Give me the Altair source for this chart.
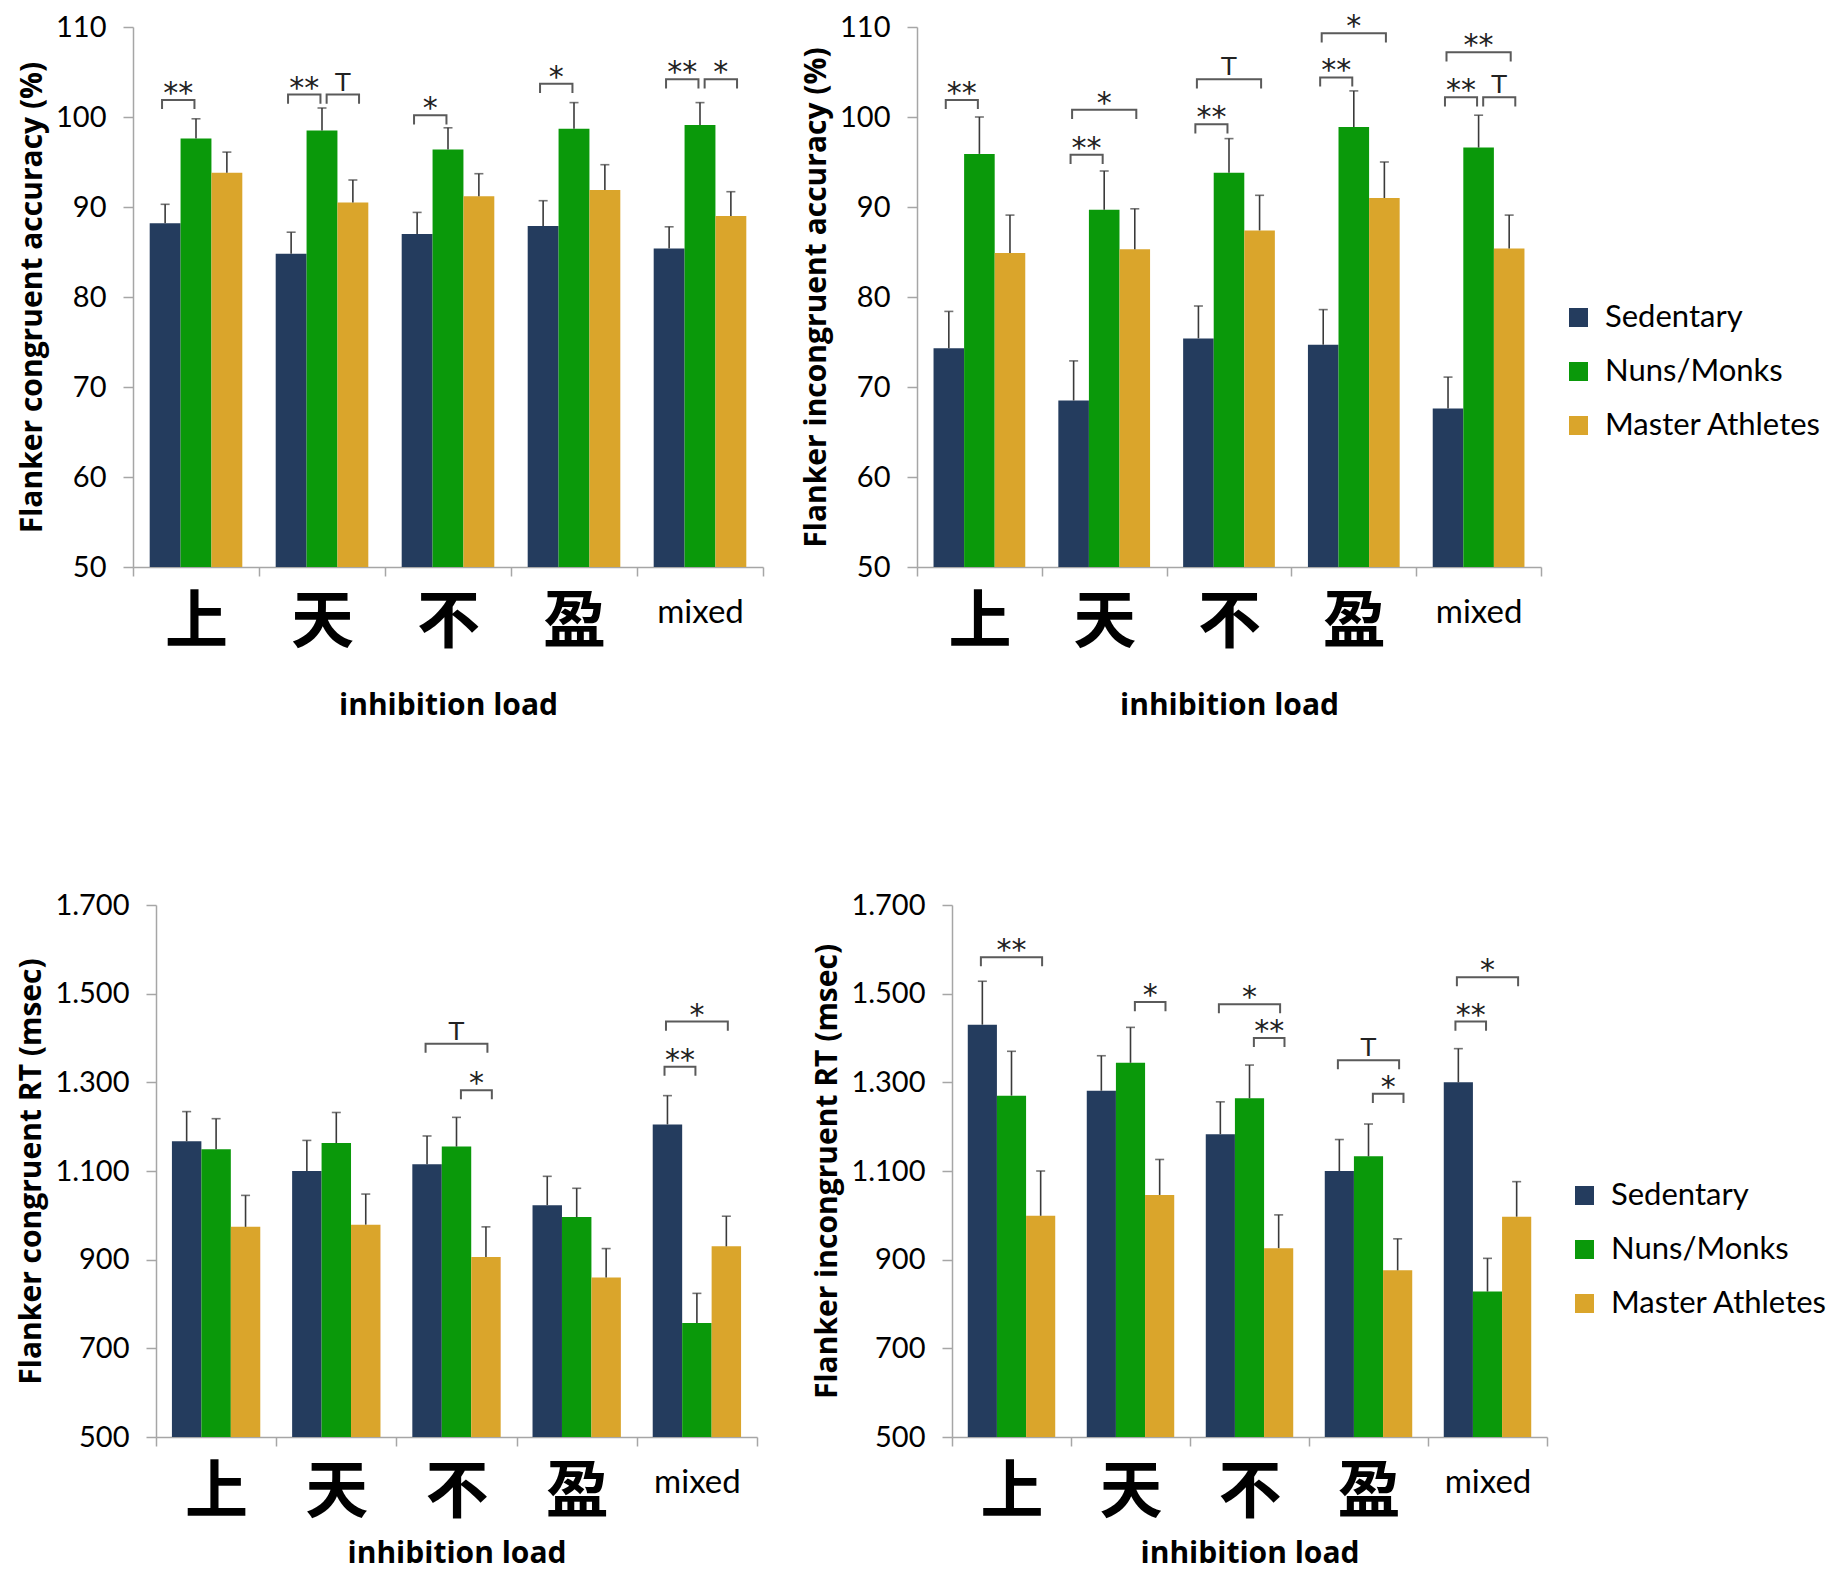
import json
import altair as alt
import pandas as pd

categories = ["上", "天", "不", "盈", "mixed"]
groups = ["Sedentary", "Nuns/Monks", "Master Athletes"]
group_colors = ["#243c5e", "#0a990a", "#daa52b"]

# Flanker congruent accuracy (%)
acc_con_sedentary = [88.2, 84.8, 87.0, 87.9, 85.4]
acc_con_nuns = [97.6, 98.5, 96.4, 98.7, 99.1]
acc_con_athletes = [93.8, 90.5, 91.2, 91.9, 89.0]
acc_con_err_sedentary = [2.1, 2.4, 2.4, 2.8, 2.4]
acc_con_err_nuns = [2.2, 2.5, 2.4, 2.9, 2.5]
acc_con_err_athletes = [2.3, 2.5, 2.5, 2.8, 2.7]
acc_con_sig = [(0, "SN", 101.9, "**"), (1, "SN", 102.5, "**"), (1, "NM", 102.5, "T"),
               (2, "SN", 100.2, "*"), (3, "SN", 103.7, "*"), (4, "SN", 104.2, "**"),
               (4, "NM", 104.2, "*")]

# Flanker incongruent accuracy (%)
acc_inc_sedentary = [74.3, 68.5, 75.4, 74.7, 67.6]
acc_inc_nuns = [95.9, 89.7, 93.8, 98.9, 96.6]
acc_inc_athletes = [84.9, 85.3, 87.4, 91.0, 85.4]
acc_inc_err_sedentary = [4.1, 4.4, 3.6, 3.9, 3.5]
acc_inc_err_nuns = [4.1, 4.3, 3.8, 4.0, 3.6]
acc_inc_err_athletes = [4.2, 4.5, 3.9, 4.0, 3.7]
acc_inc_sig = [(0, "SN", 101.9, "**"), (1, "SN", 95.8, "**"), (1, "SM", 100.8, "*"),
               (2, "SN", 99.2, "**"), (2, "SM", 104.2, "T"), (3, "SN", 104.4, "**"),
               (3, "SM", 109.3, "*"), (4, "SN", 102.2, "**"), (4, "NM", 102.2, "T"),
               (4, "SM", 107.2, "**")]

# Flanker congruent RT (msec)
rt_con_sedentary = [1167, 1100, 1115, 1023, 1205]
rt_con_nuns = [1149, 1163, 1155, 996, 757]
rt_con_athletes = [974, 979, 906, 860, 930]
rt_con_err_sedentary = [67, 69, 64, 65, 65]
rt_con_err_nuns = [69, 69, 66, 65, 67]
rt_con_err_athletes = [71, 69, 68, 65, 68]
rt_con_sig = [(2, "SM", 1387, "T"), (2, "NM", 1282, "*"), (4, "SM", 1437, "*"),
              (4, "SN", 1335, "**")]

# Flanker incongruent RT (msec)
rt_inc_sedentary = [1430, 1281, 1183, 1100, 1300]
rt_inc_nuns = [1270, 1344, 1264, 1133, 828]
rt_inc_athletes = [999, 1046, 926, 876, 997]
rt_inc_err_sedentary = [98, 79, 73, 71, 76]
rt_inc_err_nuns = [100, 80, 75, 73, 75]
rt_inc_err_athletes = [101, 80, 75, 71, 79]
rt_inc_sig = [(0, "SM", 1582, "**"), (1, "NM", 1481, "*"), (2, "SM", 1476, "*"),
              (2, "NM", 1400, "**"), (3, "SM", 1350, "T"), (3, "NM", 1274, "*"),
              (4, "SM", 1537, "*"), (4, "SN", 1437, "**")]

acc_ticks = [50, 60, 70, 80, 90, 100, 110]
rt_ticks = [500, 700, 900, 1100, 1300, 1500, 1700]

BAR_W = 0.245
PAIR_ENDS = {"SN": (-1.1, -0.05), "NM": (0.15, 1.2), "SM": (-1.05, 1.05)}
CAT_JS = json.dumps(categories, ensure_ascii=False)


def panel(means, errs, sig, ydom, yticks, ytitle, width, height, legend, rt,
          title_pad, shift=0):
    rows = []
    for gi, g in enumerate(groups):
        for ci, c in enumerate(categories):
            xc = ci + 0.5 + (gi - 1) * BAR_W
            rows.append(dict(cat=c, group=g, xc=xc, x0=xc - BAR_W / 2, x1=xc + BAR_W / 2,
                             mean=means[gi][ci], top=means[gi][ci] + errs[gi][ci]))
    df = pd.DataFrame(rows)

    drop = 0.017 * (ydom[1] - ydom[0])
    brows, trows = [], []
    for bi, (ci, pair, lvl, lab) in enumerate(sig):
        l, r = PAIR_ENDS[pair]
        xl = ci + 0.5 + l * BAR_W
        xr = ci + 0.5 + r * BAR_W
        for k, (xx, yy) in enumerate([(xl, lvl - drop), (xl, lvl), (xr, lvl), (xr, lvl - drop)]):
            brows.append(dict(bid=bi, ord=k, bx=xx, by=yy))
        trows.append(dict(tx=(xl + xr) / 2, ty=lvl, lab=lab))
    bdf = pd.DataFrame(brows)
    tdf = pd.DataFrame(trows)

    is_mixed = "floor(datum.value) == 4"
    xaxis = alt.Axis(
        values=[i * 0.5 for i in range(11)],
        labelExpr=f"datum.value % 1 == 0 ? '' : {CAT_JS}[floor(datum.value)]",
        tickOpacity={"condition": {"test": "datum.value % 1 != 0", "value": 0}, "value": 1},
        labelFont={"condition": {"test": is_mixed, "value": "Lato"}, "value": "Noto Sans CJK SC"},
        labelFontSize={"condition": {"test": is_mixed, "value": 33}, "value": 63},
        labelFontWeight={"condition": {"test": is_mixed, "value": "normal"}, "value": "bold"},
        labelPadding={"condition": {"test": is_mixed, "value": 20}, "value": 15},
        labelOverlap=False,
        labelFlush=False,
        labelBaseline="top",
        tickSize=9,
        titlePadding=title_pad,
    )
    if rt:
        ylabel = "replace(format(datum.value, ','), ',', '.')"
    else:
        ylabel = "format(datum.value, 'd')"
    yaxis = alt.Axis(values=yticks, labelExpr=ylabel, tickSize=10, labelPadding=17,
                     titlePadding=8, labelFontSize=29, offset=-shift)

    xs = alt.Scale(domain=[0, 5], nice=False, zero=False, range=[shift, width + shift])
    ys = alt.Scale(domain=ydom, nice=False, zero=False)

    def X(f):
        return alt.X(f, type="quantitative", scale=xs, axis=xaxis, title="inhibition load")

    def Y(f):
        return alt.Y(f, type="quantitative", scale=ys, axis=yaxis, title=ytitle)

    color = alt.Color("group:N", scale=alt.Scale(domain=groups, range=group_colors),
                      sort=groups, legend=legend)

    bars = alt.Chart(df).mark_bar().encode(
        x=X("x0"), x2="x1:Q", y=Y("mean"), y2=alt.datum(ydom[0]), color=color)
    err = alt.Chart(df).mark_rule(color="#3a3a3a", strokeWidth=1.6).encode(
        x=X("xc"), y=Y("mean"), y2="top:Q")
    caps = alt.Chart(df).mark_tick(orient="horizontal", size=9, thickness=1.6,
                                   color="#3a3a3a").encode(x=X("xc"), y=Y("top"))
    brk = alt.Chart(bdf).mark_line(color="#5a5a5a", strokeWidth=2).encode(
        x=X("bx"), y=Y("by"), detail="bid:N", order="ord:Q")
    stars = alt.Chart(tdf).transform_filter("datum.lab != 'T'").mark_text(
        font="DejaVu Sans", fontSize=30, dy=3, baseline="alphabetic", align="center",
        color="#222222").encode(x=X("tx"), y=Y("ty"), text="lab:N")
    tees = alt.Chart(tdf).transform_filter("datum.lab == 'T'").mark_text(
        font="DejaVu Sans", fontSize=25, dy=-4, baseline="alphabetic", align="center",
        color="#222222").encode(x=X("tx"), y=Y("ty"), text="lab:N")

    return alt.layer(bars, err, caps, brk, stars, tees).properties(
        width=width + shift, height=height)


def legend_for(width):
    return alt.Legend(orient="none", legendX=width + 22, legendY=275, title=None,
                      symbolType="square", symbolSize=361, symbolStrokeWidth=0,
                      labelFont="Lato", labelFontSize=31, labelOffset=11, labelLimit=0,
                      rowPadding=22, padding=0, labelColor="black")


tl = panel([acc_con_sedentary, acc_con_nuns, acc_con_athletes],
           [acc_con_err_sedentary, acc_con_err_nuns, acc_con_err_athletes],
           acc_con_sig, [50, 110], acc_ticks, "Flanker congruent accuracy (%)",
           630, 540, None, False, 36)
tr = panel([acc_inc_sedentary, acc_inc_nuns, acc_inc_athletes],
           [acc_inc_err_sedentary, acc_inc_err_nuns, acc_inc_err_athletes],
           acc_inc_sig, [50, 110], acc_ticks, "Flanker incongruent accuracy (%)",
           624, 540, legend_for(624), False, 36)
bl = panel([rt_con_sedentary, rt_con_nuns, rt_con_athletes],
           [rt_con_err_sedentary, rt_con_err_nuns, rt_con_err_athletes],
           rt_con_sig, [500, 1700], rt_ticks, "Flanker congruent RT (msec)",
           601, 532, None, True, 14, shift=23)
br = panel([rt_inc_sedentary, rt_inc_nuns, rt_inc_athletes],
           [rt_inc_err_sedentary, rt_inc_err_nuns, rt_inc_err_athletes],
           rt_inc_sig, [500, 1700], rt_ticks, "Flanker incongruent RT (msec)",
           595, 532, legend_for(595), True, 14)

row1 = alt.hconcat(tl, tr, spacing=37).resolve_scale(color="independent")
row2 = alt.hconcat(bl, br, spacing=54).resolve_scale(color="independent")

chart = (
    alt.vconcat(row1, row2, spacing=171)
    .resolve_scale(color="independent")
    .properties(padding={"top": 4, "left": 8, "right": 0, "bottom": 10}, background="white")
    .configure_view(stroke=None)
    .configure_axis(
        grid=False,
        labelFont="Lato",
        labelColor="black",
        titleFont="Open Sans",
        titleFontWeight="bold",
        titleFontSize=30,
        titleColor="black",
        domainColor="#a6a6a6",
        domainWidth=1.5,
        tickColor="#a6a6a6",
        tickWidth=1.5,
    )
)

chart.save("out.html", embed_options={"renderer": "svg", "actions": False})
